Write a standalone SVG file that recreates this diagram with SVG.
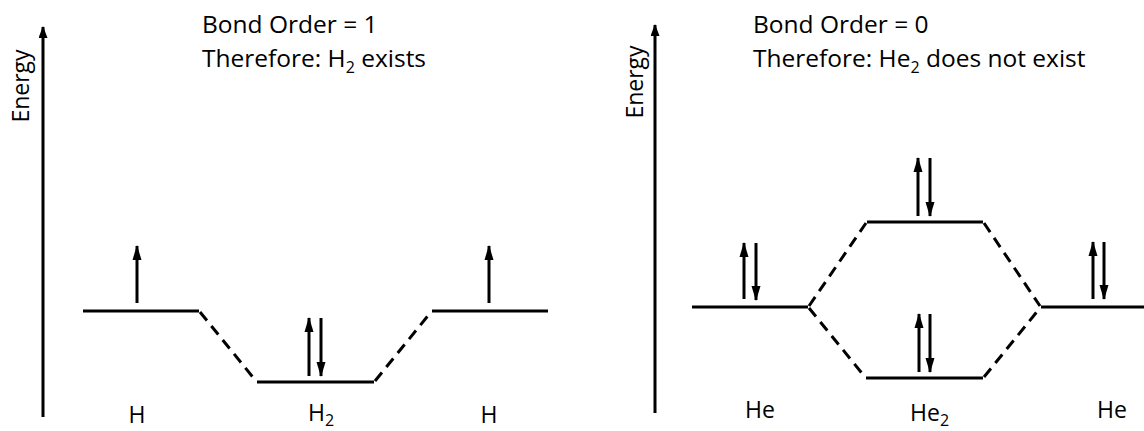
<svg xmlns="http://www.w3.org/2000/svg" width="1144" height="431" viewBox="0 0 1144 431">
<style>
text{font-family:"Open Sans","Liberation Sans",sans-serif;fill:#000}
.title{font-size:24.5px}
.lbl{font-size:23px}
.axlbl{font-size:23px}
.sub{font-size:16px}
.lvl{stroke:#000;stroke-width:3;fill:none}
.dash{stroke:#000;stroke-width:3;fill:none;stroke-dasharray:11 7}
.e{stroke:#000;stroke-width:3;fill:none;marker-end:url(#ah)}
.ax{stroke:#000;stroke-width:3;fill:none;marker-end:url(#axh)}
</style>
<defs>
<marker id="ah" markerUnits="userSpaceOnUse" viewBox="0 0 15 10" refX="14" refY="5" markerWidth="15" markerHeight="10" orient="auto"><path d="M0,0.5 L15,5 L0,9.5 Z" fill="#000"/></marker>
<marker id="axh" markerUnits="userSpaceOnUse" viewBox="0 0 12 9" refX="11" refY="4.5" markerWidth="12" markerHeight="9" orient="auto"><path d="M0,0 L12,4.5 L0,9 Z" fill="#000"/></marker>
</defs>

<g id="left-axis">
<line class="ax" x1="43" y1="417" x2="43" y2="27"/>
<text class="axlbl" transform="translate(29,86) rotate(-90)" text-anchor="middle">Energy</text>
</g>
<g id="left-title">
<text class="title" x="202" y="33">Bond Order = 1</text>
<text class="title" x="202" y="67">Therefore: H<tspan class="sub" dy="6">2</tspan><tspan dy="-6"> exists</tspan></text>
</g>
<g id="H-left">
<line class="lvl" x1="83" y1="311" x2="199" y2="311"/>
<line class="e" x1="137" y1="303" x2="137" y2="246"/>
<text class="lbl" x="137" y="423" text-anchor="middle">H</text>
</g>
<g id="H2-MO">
<line class="lvl" x1="257" y1="382" x2="374" y2="382"/>
<line class="e" x1="309" y1="376" x2="309" y2="318"/>
<line class="e" x1="321" y1="318" x2="321" y2="376"/>
<text class="lbl" x="308" y="421">H<tspan class="sub" dy="5">2</tspan></text>
</g>
<g id="H-right">
<line class="lvl" x1="432" y1="311" x2="548" y2="311"/>
<line class="e" x1="489" y1="303" x2="489" y2="246"/>
<text class="lbl" x="489" y="423" text-anchor="middle">H</text>
</g>

<g id="right-axis">
<line class="ax" x1="655" y1="413" x2="655" y2="25"/>
<text class="axlbl" transform="translate(643,82) rotate(-90)" text-anchor="middle">Energy</text>
</g>
<g id="right-title">
<text class="title" x="753" y="33">Bond Order = 0</text>
<text class="title" x="753" y="67">Therefore: He<tspan class="sub" dy="6">2</tspan><tspan dy="-6"> does not exist</tspan></text>
</g>
<g id="He-left">
<line class="lvl" x1="692" y1="307" x2="808" y2="307"/>
<line class="e" x1="744" y1="299" x2="744" y2="243"/>
<line class="e" x1="756" y1="243" x2="756" y2="300"/>
<text class="lbl" x="760" y="418" text-anchor="middle">He</text>
</g>
<g id="He2-antibonding">
<line class="lvl" x1="867" y1="222" x2="983" y2="222"/>
<line class="e" x1="918" y1="216" x2="918" y2="158"/>
<line class="e" x1="930" y1="158" x2="930" y2="216"/>
</g>
<g id="He2-bonding">
<line class="lvl" x1="866" y1="378" x2="983" y2="378"/>
<line class="e" x1="919" y1="372" x2="919" y2="314"/>
<line class="e" x1="930" y1="314" x2="930" y2="372"/>
<text class="lbl" x="910" y="421">He<tspan class="sub" dy="5">2</tspan></text>
</g>
<g id="He-right">
<line class="lvl" x1="1041" y1="307" x2="1144" y2="307"/>
<line class="e" x1="1093" y1="299" x2="1093" y2="242"/>
<line class="e" x1="1104" y1="242" x2="1104" y2="299"/>
<text class="lbl" x="1112" y="418" text-anchor="middle">He</text>
</g>

<g id="connectors">
<line class="dash" x1="200" y1="312" x2="256" y2="381"/>
<line class="dash" x1="375" y1="381" x2="431" y2="312"/>
<line class="dash" x1="809" y1="306" x2="866" y2="223"/>
<line class="dash" x1="809" y1="308" x2="865" y2="377"/>
<line class="dash" x1="984" y1="223" x2="1040" y2="306"/>
<line class="dash" x1="984" y1="377" x2="1040" y2="308"/>
</g>
</svg>
